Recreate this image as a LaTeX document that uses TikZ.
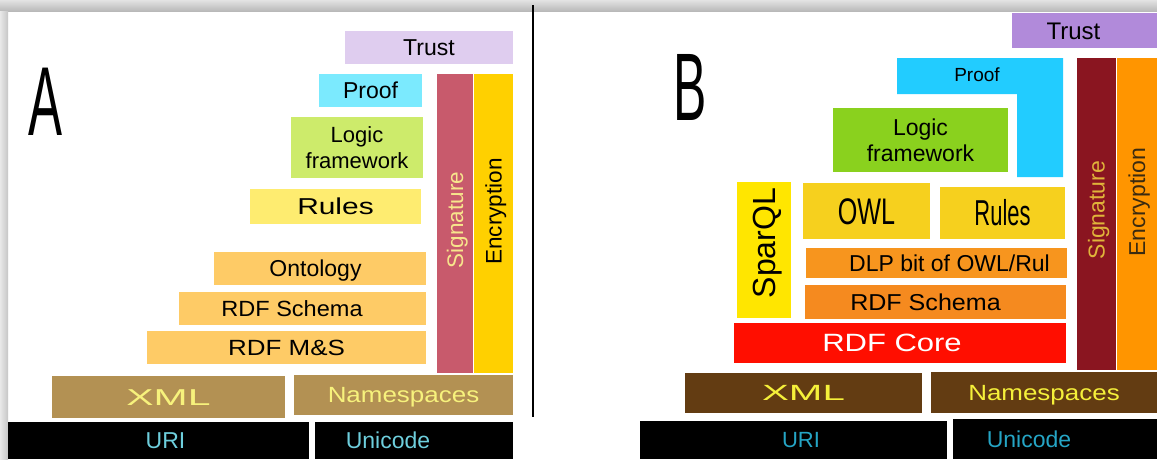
\documentclass[tikz,border=0pt]{standalone}
\usepackage{fontspec}
\setmainfont{Liberation Sans}
\usepackage{xcolor}
\usepackage{tikz}

\definecolor{trustA}{HTML}{DFCDEF}
\definecolor{proofA}{HTML}{7BEAFE}
\definecolor{logicA}{HTML}{CDEB6B}
\definecolor{rulesA}{HTML}{FEEC70}
\definecolor{rdfA}{HTML}{FECB66}
\definecolor{sigA}{HTML}{C85A6C}
\definecolor{sigtextA}{HTML}{F7E58C}
\definecolor{encA}{HTML}{FFD000}
\definecolor{xmlA}{HTML}{B39153}
\definecolor{xmltextA}{HTML}{F7F27C}
\definecolor{uritextA}{HTML}{6ECFDD}
\definecolor{trustB}{HTML}{B18ADA}
\definecolor{proofB}{HTML}{22CCFF}
\definecolor{logicB}{HTML}{8AD11E}
\definecolor{sparqlB}{HTML}{FFE600}
\definecolor{owlB}{HTML}{F6D01E}
\definecolor{dlpB}{HTML}{F7951E}
\definecolor{rdfsB}{HTML}{F58A1F}
\definecolor{coreB}{HTML}{FF0E00}
\definecolor{sigB}{HTML}{8A1520}
\definecolor{sigtextB}{HTML}{E0B43A}
\definecolor{encB}{HTML}{FF9500}
\definecolor{enctextB}{HTML}{3A2A10}
\definecolor{xmlB}{HTML}{633C12}
\definecolor{xmltextB}{HTML}{F5F03A}
\definecolor{uritextB}{HTML}{25A5C5}

\tikzset{
    layer/.style={rectangle, inner sep=0pt},
    twoline/.style={rectangle, inner sep=0pt, align=center},
    sz/.style={font=\fontsize{#1}{#1}\selectfont, text height=0.716*#1, text depth=0pt},
    letter/.style={inner sep=0pt, text depth=0pt}
}

\begin{document}
\begin{tikzpicture}[x=1pt, y=-1pt]
    \useasboundingbox (0, 0) rectangle (1157, 459);
    \fill[white] (0, 0) rectangle (1157, 459);
    \shade[top color=gray!22, bottom color=gray!55] (0, 0) rectangle (1157, 11);
    \shade[left color=gray!18, right color=gray!45] (0, 11) rectangle (8, 459);
    \draw[line width=2pt] (533, 5) -- (533, 417);

    \node[letter, font=\fontsize{98}{98}\selectfont, text height=70] at (45, 100) (letterA) {\scalebox{0.52}[1]{A}};
    \node[layer, fill=trustA, minimum width=168, minimum height=33, sz=23] at (429, 47.5) (trustA) {Trust};
    \node[layer, fill=proofA, minimum width=103, minimum height=33, sz=23] at (370.5, 90.5) (proofA) {Proof};
    \node[twoline, fill=logicA, minimum width=132, minimum height=61, font=\fontsize{22}{26.5}\selectfont] at (357, 147.5) (logicA) {Logic\\framework};
    \node[layer, fill=rulesA, minimum width=171, minimum height=35, sz=23] at (335.5, 206.5) (rulesA) {\scalebox{1.3}[1]{Rules}};
    \node[layer, fill=rdfA, minimum width=212, minimum height=33, sz=23] at (320, 268.5) (ontologyA) {Ontology\hspace*{9pt}};
    \node[layer, fill=rdfA, minimum width=247, minimum height=33, sz=22] at (302.5, 308.5) (rdfsA) {\scalebox{1.07}[1]{RDF Schema}\hspace*{21pt}};
    \node[layer, fill=rdfA, minimum width=279, minimum height=33, sz=22] at (286.5, 347.5) (rdfmsA) {\scalebox{1.18}[1]{RDF M\&S}};
    \node[layer, fill=sigA, text=sigtextA, minimum width=299, minimum height=36, rotate=90, sz=22.5] at (455, 223.5) (sigA) {\hspace*{7pt}Signature};
    \node[layer, fill=encA, minimum width=299, minimum height=39, rotate=90, sz=22.5] at (493.5, 223.5) (encA) {\hspace*{24pt}Encryption};
    \node[layer, fill=xmlA, text=xmltextA, minimum width=233, minimum height=42, sz=23] at (168.5, 397) (xmlA) {\scalebox{1.78}[1]{XML}};
    \node[layer, fill=xmlA, text=xmltextA, minimum width=219, minimum height=40, sz=22] at (403.5, 395) (nsA) {\scalebox{1.18}[1]{Namespaces}};
    \node[layer, fill=black, text=uritextA, minimum width=301, minimum height=37, sz=23] at (158.5, 440.5) (uriA) {\hspace*{14pt}URI};
    \node[layer, fill=black, text=uritextA, minimum width=198, minimum height=37, sz=23] at (414, 440.5) (unicodeA) {Unicode\hspace*{52pt}};

    \node[letter, font=\fontsize{96}{96}\selectfont, text height=69] at (690.5, 85.5) (letterB) {\scalebox{0.52}[1]{B}};
    \node[layer, fill=trustB, minimum width=145, minimum height=35, sz=24] at (1084.5, 30.5) (trustB) {Trust\hspace*{22pt}};
    \fill[proofB] (897, 58) -- (1063, 58) -- (1063, 177) -- (1017, 177) -- (1017, 94) -- (897, 94) -- cycle;
    \node[layer, sz=19] at (977, 75) (proofB) {Proof};
    \node[twoline, fill=logicB, minimum width=175, minimum height=64, font=\fontsize{23}{26}\selectfont] at (920.5, 140) (logicB) {Logic\\framework};
    \node[layer, fill=sparqlB, minimum width=136, minimum height=54, rotate=90, sz=32] at (764, 250) (sparqlB) {\hspace*{14pt}SparQL};
    \node[layer, fill=owlB, minimum width=127, minimum height=56, sz=37] at (866.5, 211) (owlB) {\scalebox{0.68}[1]{OWL}};
    \node[layer, fill=owlB, minimum width=125, minimum height=52, sz=36] at (1002.5, 213) (rulesB) {\scalebox{0.61}[1]{Rules}};
    \node[layer, fill=dlpB, minimum width=261, minimum height=30, sz=23] at (936.5, 263) (dlpB) {\hspace*{26pt}DLP bit of OWL/Rul};
    \node[layer, fill=rdfsB, minimum width=261, minimum height=34, sz=23] at (935.5, 302) (rdfsB) {\scalebox{1.09}[1]{RDF Schema}\hspace*{20pt}};
    \node[layer, fill=coreB, text=white, minimum width=332, minimum height=40, sz=25] at (900, 343) (coreB) {\scalebox{1.24}[1]{RDF Core}\hspace*{16pt}};
    \node[layer, fill=sigB, text=sigtextB, minimum width=312, minimum height=39, rotate=90, sz=23] at (1096.5, 214) (sigB) {\hspace*{8pt}Signature};
    \node[layer, fill=encB, text=enctextB, minimum width=312, minimum height=40, rotate=90, sz=23] at (1137, 214) (encB) {\hspace*{24pt}Encryption};
    \node[layer, fill=xmlB, text=xmltextB, minimum width=237, minimum height=40, sz=22] at (803.5, 393) (xmlB) {\scalebox{1.83}[1]{XML}};
    \node[layer, fill=xmlB, text=xmltextB, minimum width=226, minimum height=41, sz=22] at (1044, 392.5) (nsB) {\scalebox{1.18}[1]{Namespaces}};
    \node[layer, fill=black, text=uritextB, minimum width=307, minimum height=38, sz=22] at (793.5, 440) (uriB) {\hspace*{15pt}URI};
    \node[layer, fill=black, text=uritextB, minimum width=204, minimum height=40, sz=23] at (1055, 439) (unicodeB) {Unicode\hspace*{52pt}};
\end{tikzpicture}
\end{document}
